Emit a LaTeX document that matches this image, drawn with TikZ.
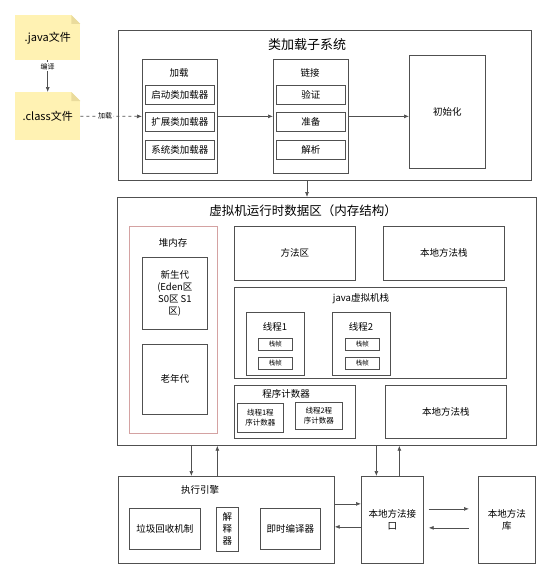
\documentclass[tikz,border=0pt]{standalone}
\usepackage{fontspec}
\setmainfont{Noto Sans CJK SC}
\usetikzlibrary{%
    arrows.meta,
    calc,
    positioning
}
\definecolor{linegray}{HTML}{505050}
\definecolor{notefill}{HTML}{FFF2B3}
\definecolor{notefold}{HTML}{EADB9C}
\definecolor{heapred}{HTML}{D4A2A2}
\tikzset{
    headarrow/.style = {-{Latex[length=5pt,width=4pt]}, draw=linegray, line width=.7pt},
    box/.style = {draw=linegray, line width=.7pt, anchor=north west, inner sep=1pt,
                  align=center, font=\fontsize{9.5}{12}\selectfont},
    note/.style = {fill=notefill, anchor=north west, inner sep=0pt,
                   font=\fontsize{11}{13}\selectfont},
    lbl/.style = {inner sep=1pt, font=\fontsize{9.5}{12}\selectfont},
    tiny/.style = {inner sep=1pt, fill=white, font=\fontsize{7}{8}\selectfont},
    title/.style = {inner sep=1pt, font=\fontsize{13}{15}\selectfont}
}

\begin{document}
\begin{tikzpicture}[x=1pt, y=-1pt]
    \useasboundingbox (0,0) rectangle (551,578);

    % source files
    \node[note, minimum width=65pt, minimum height=45pt] (java) at (15,15) {.java文件};
    \node[note, minimum width=65pt, minimum height=48pt] (class) at (15,92) {.class文件};
    \foreach \n in {java,class}
        {
        \fill[white] ([xshift=-9pt]\n.north east) -- (\n.north east) -- ([yshift=-9pt]\n.north east) -- cycle;
        \fill[notefold] ([xshift=-9pt]\n.north east) -- ([xshift=-9pt,yshift=-9pt]\n.north east) -- ([yshift=-9pt]\n.north east) -- cycle;
        }

    % class loader subsystem
    \node[box, minimum width=413pt, minimum height=150pt] (cls) at (118,30) {};
    \node[title] (clstitle) at (307,45) {类加载子系统};
    \node[box, minimum width=75pt, minimum height=114pt] (load) at (142,59) {};
    \node[lbl] at (179,73) {加载};
    \node[box, minimum width=75pt, minimum height=114pt] (link) at (273,59) {};
    \node[lbl] at (310,73) {链接};
    \foreach \y/\Loader/\Step [count=\i] in {85/启动类加载器/验证, 112/扩展类加载器/准备, 140/系统类加载器/解析}
        {
        \node[box, minimum width=69pt, minimum height=19pt] (load-\i) at (145,\y) {\Loader};
        \node[box, minimum width=69pt, minimum height=19pt] (link-\i) at (276,\y) {\Step};
        }
    \node[box, minimum width=76pt, minimum height=113pt] (init) at (409,55) {初始化};

    \draw[headarrow] (java) to node [tiny, pos=.2] {编译} (class);
    \draw[headarrow, dashed] (class.east) to node [tiny, pos=.4] {加载} (load.west);
    \draw[headarrow] (load.east) -- (link.west);
    \draw[headarrow] (link.east) -- (link.east -| init.west);

    % runtime data area
    \node[box, minimum width=419pt, minimum height=248pt] (rt) at (117,197) {};
    \node[title, font=\fontsize{12.5}{15}\selectfont] at (303,211) {虚拟机运行时数据区（内存结构）};
    \draw[headarrow] (clstitle.south |- cls.south) -- (clstitle.south |- rt.north);

    \node[box, draw=heapred, minimum width=88pt, minimum height=207pt] (heap) at (129,226) {};
    \node[lbl] at (173,243) {堆内存};
    \node[box, minimum width=65pt, minimum height=72pt] (young) at (142,257) {新生代\\(Eden区\\S0区 S1\\区)};
    \node[box, minimum width=65pt, minimum height=70pt] (old) at (142,344) {老年代};

    \node[box, minimum width=121pt, minimum height=54pt] (method) at (234,226) {方法区};
    \node[box, minimum width=121pt, minimum height=54pt] (native-1) at (383,226) {本地方法栈};

    \node[box, minimum width=272pt, minimum height=91pt] (jvms) at (234,287) {};
    \node[lbl] at (361,299) {java虚拟机栈};
    \foreach \x/\fx [count=\i] in {246/258, 332/345}
        {
        \node[box, minimum width=58pt, minimum height=63pt] (thread-\i) at (\x,312) {};
        \node[lbl] at (\x+29,327) {线程\i};
        \node[box, font=\fontsize{6.5}{8}\selectfont, minimum width=34pt, minimum height=12pt] (frame-\i-1) at (\fx,338) {栈帧};
        \node[box, font=\fontsize{6.5}{8}\selectfont, minimum width=34pt, minimum height=12pt] (frame-\i-2) at (\fx,357) {栈帧};
        }

    \node[box, minimum width=121pt, minimum height=53pt] (pc) at (234,385) {};
    \node[lbl] at (286,394) {程序计数器};
    \node[box, font=\fontsize{7.5}{9.5}\selectfont, minimum width=46pt, minimum height=29pt] (pc-1) at (237,403) {线程1程\\序计数器};
    \node[box, font=\fontsize{7.5}{9.5}\selectfont, minimum width=47pt, minimum height=27pt] (pc-2) at (295,402) {线程2程\\序计数器};
    \node[box, minimum width=121pt, minimum height=53pt] (native-2) at (385,385) {本地方法栈};

    % execution engine and native side
    \node[box, minimum width=216pt, minimum height=87pt] (engine) at (118,476) {};
    \node[lbl] at (200,490) {执行引擎};
    \node[box, minimum width=71pt, minimum height=41pt] (gc) at (129,508) {垃圾回收机制};
    \node[box, minimum width=22pt, minimum height=44pt] (interp) at (216,507) {解\\释\\器};
    \node[box, minimum width=60pt, minimum height=41pt] (jit) at (260,508) {即时编译器};
    \node[box, minimum width=62pt, minimum height=87pt] (jni) at (361,476) {本地方法接\\口};
    \node[box, minimum width=57pt, minimum height=87pt] (lib) at (478,476) {本地方法\\库};

    \draw[headarrow] ([xshift=-35pt]engine.north |- rt.south) -- ([xshift=-35pt]engine.north);
    \draw[headarrow] ([xshift=-9pt]engine.north) -- ([xshift=-9pt]engine.north |- rt.south);
    \draw[headarrow] ([xshift=-16pt]jni.north |- rt.south) -- ([xshift=-16pt]jni.north);
    \draw[headarrow] ([xshift=7pt]jni.north) -- ([xshift=7pt]jni.north |- rt.south);
    \draw[headarrow] ([yshift=16pt]engine.east) -- ([yshift=16pt]engine.east -| jni.west);
    \draw[headarrow] ([yshift=-7pt]jni.west) -- ([yshift=-7pt]jni.west -| engine.east);
    \draw[headarrow] ([xshift=5pt,yshift=11pt]jni.east) -- ([xshift=-9pt,yshift=11pt]lib.west);
    \draw[headarrow] ([xshift=-9pt,yshift=-8pt]lib.west) -- ([xshift=5pt,yshift=-8pt]jni.east);
\end{tikzpicture}
\end{document}
